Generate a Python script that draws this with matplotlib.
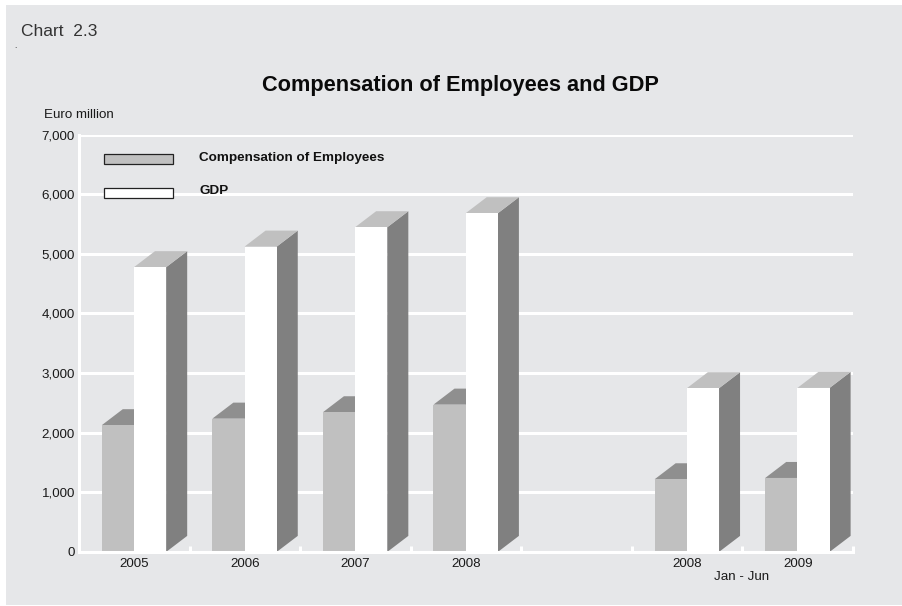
import matplotlib
matplotlib.use("Agg")
import matplotlib.pyplot as plt
from matplotlib.patches import Polygon, Rectangle
from matplotlib.ticker import FuncFormatter, FixedLocator

plt.rcParams['font.family'] = ['Liberation Sans', 'DejaVu Sans']

periods = ["2005", "2006", "2007", "2008", "", "2008", "2009"]
compensation = [2125, 2235, 2342, 2470, None, 1218, 1240]
gdp = [4775, 5120, 5445, 5680, None, 2745, 2750]
y_ticks = [0, 1000, 2000, 3000, 4000, 5000, 6000, 7000]

W, H = 903, 606
BG = "#e6e7e9"
TXT = "#1a1a1a"
LABEL_SIZE = 9.6

fig = plt.figure(figsize=(W / 100, H / 100), dpi=100, facecolor="white")
fig.patches.append(Rectangle((6 / W, 1 - 605 / H), (W - 6) / W, 600 / H,
                             transform=fig.transFigure, facecolor=BG, edgecolor="none", zorder=-5))

ax = fig.add_axes([79 / W, 1 - 551.9 / H, 774 / W, (551.9 - 134.5) / H])
ax.patch.set_alpha(0)
ax.set_xlim(0, len(periods))
ax.set_ylim(0, 7000)

for s in ("top", "right"):
    ax.spines[s].set_visible(False)
for s in ("left", "bottom"):
    ax.spines[s].set_color("white")
    ax.spines[s].set_linewidth(2.2)
    ax.spines[s].set_zorder(10)

ax.set_axisbelow(True)
ax.yaxis.grid(True, color="white", linewidth=2.2)
ax.xaxis.grid(False)
ax.yaxis.set_major_locator(FixedLocator(y_ticks))
ax.yaxis.set_major_formatter(FuncFormatter(lambda v, _: f"{int(v):,}"))
ax.tick_params(axis="y", length=0, pad=3, labelsize=LABEL_SIZE, labelcolor=TXT)

# Category boundaries carry short inward ticks; labels sit at the centres.
ax.set_xticks(range(len(periods) + 1))
ax.set_xticklabels([])
ax.tick_params(axis="x", which="major", direction="in", length=4.5, width=2.2, color="white")
ax.set_xticks([i + 0.5 for i in range(len(periods))], minor=True)
ax.set_xticklabels(periods, minor=True)
ax.tick_params(axis="x", which="minor", length=0, pad=4.5, labelsize=LABEL_SIZE, labelcolor=TXT)

BAR_W = 32.2 / 110.57
DX = 21 / 110.57
DY = 16 / (417.4 / 7000)
NUDGE = -0.3 / 110.57


def box(x0, value, front, top, side, z):
    x1 = x0 + BAR_W
    ax.add_patch(Polygon([(x1, 0), (x1 + DX, DY), (x1 + DX, value + DY), (x1, value)],
                         facecolor=side, edgecolor="none", zorder=z))
    ax.add_patch(Polygon([(x0, value), (x0 + DX, value + DY), (x1 + DX, value + DY), (x1, value)],
                         facecolor=top, edgecolor="none", zorder=z))
    ax.add_patch(Rectangle((x0, 0), BAR_W, value, facecolor=front, edgecolor="none", zorder=z + 0.1))


for i, (c, g) in enumerate(zip(compensation, gdp)):
    if c is None:
        continue
    centre = i + 0.5 + NUDGE
    box(centre - BAR_W, c, "#c0c0c0", "#8f8f8f", "#808080", 3)
    box(centre, g, "#ffffff", "#c0c0c0", "#808080", 4)


def px(x, y):
    return x / W, 1 - y / H


# Legend keys and labels
for y, colour, label, ty in [(154, "#c0c0c0", "Compensation of Employees", 157.5),
                             (188, "#ffffff", "GDP", 190.5)]:
    fig.patches.append(Rectangle(px(104.5, y + 10), 68.5 / W, 10 / H, transform=fig.transFigure,
                                 facecolor=colour, edgecolor="#222222", linewidth=0.9, zorder=6))
    fig.text(*px(199.5, ty), label, fontsize=9.7, fontweight="bold", color="#111111",
             va="center", ha="left", zorder=7)

fig.text(*px(460.5, 85), "Compensation of Employees and GDP", fontsize=15.7,
         fontweight="bold", color="#0a0a0a", ha="center", va="center")
fig.text(*px(21, 32), "Chart  2.3", fontsize=12.5, color="#333333", ha="left", va="center")
fig.text(*px(14, 47), ".", fontsize=6, color="#111111", ha="left", va="center")
fig.text(*px(44.5, 115), "Euro million", fontsize=LABEL_SIZE, color=TXT, ha="left", va="center")
fig.text(*px(742, 577), "Jan - Jun", fontsize=LABEL_SIZE, color=TXT, ha="center", va="center")

fig.savefig("out.png", dpi=100, facecolor=fig.get_facecolor())
